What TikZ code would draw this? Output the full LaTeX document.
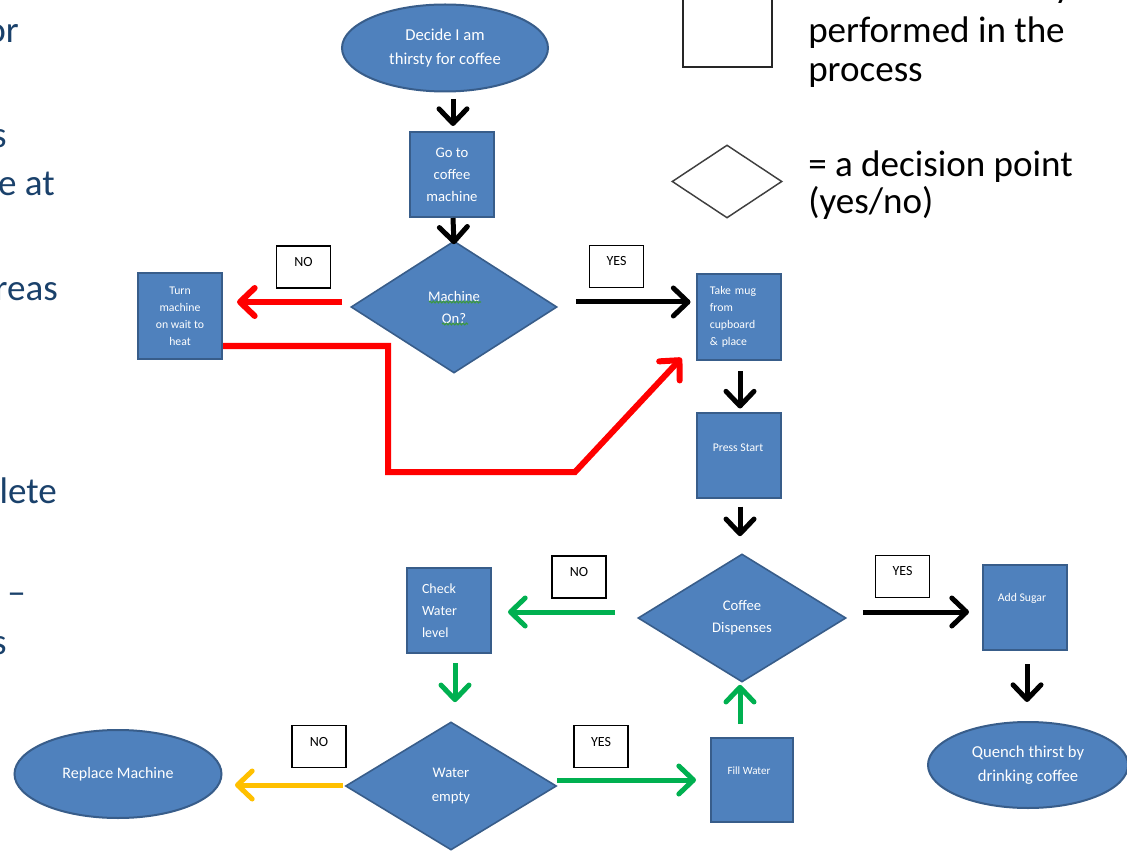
\documentclass[tikz,border=0pt]{standalone}
\usepackage{fontspec}
\setmainfont{Carlito}
\usetikzlibrary{arrows.meta,shapes.geometric,calc,decorations.pathmorphing}
\definecolor{fillblue}{HTML}{4F81BD}
\definecolor{edgeblue}{HTML}{385D8A}
\definecolor{navy}{HTML}{1A416B}
\definecolor{arrred}{HTML}{FF0000}
\definecolor{arrgreen}{HTML}{00B050}
\definecolor{arryellow}{HTML}{FFC000}
\definecolor{spellgreen}{HTML}{3C9A3C}
\begin{document}
\begin{tikzpicture}[x=0.75pt,y=-0.75pt,
  proc/.style={draw=edgeblue, line width=1.5pt, fill=fillblue, text=white, inner sep=0pt,
    minimum width=63pt, minimum height=63.75pt, align=center,
    font=\fontsize{8.8}{12.75}\selectfont},
  dec/.style={diamond, draw=edgeblue, line width=1.2pt, fill=fillblue, text=white, inner sep=0pt,
    align=center, font=\fontsize{11}{16.5}\selectfont},
  term/.style={ellipse, draw=edgeblue, line width=1.5pt, fill=fillblue, text=white, inner sep=0pt,
    align=center, font=\fontsize{12.5}{18}\selectfont},
  lab/.style={draw=black, line width=1.2pt, fill=white, inner sep=0pt,
    minimum width=40.5pt, minimum height=31.5pt},
  labtext/.style={font=\fontsize{10.5}{12}\selectfont, inner sep=0pt},
  boxtext/.style={text=white, inner sep=0pt, font=\fontsize{8.8}{12.75}\selectfont},
  bigtext/.style={font=\fontsize{27.8}{30}\selectfont, inner sep=0pt},
  sidetext/.style={bigtext, text=navy, anchor=base east},
  flow/.style={line width=3.75pt, -{Straight Barb[length=11pt,width=21pt,round]}},
  blk/.style={flow, draw=black},
  redl/.style={flow, draw=arrred, line width=4.5pt},
  grn/.style={flow, draw=arrgreen},
  yel/.style={flow, draw=arryellow},
  spell/.style={draw=spellgreen, line width=0.8pt, decorate,
    decoration={snake, amplitude=0.7pt, segment length=2.5pt}}
]
\path[use as bounding box, clip] (0,0) rectangle (1127,855);
\fill[white] (0,0) rectangle (1127,855);

% left margin text fragments
\node[sidetext] (t1) at (19,43) {or};
\node[sidetext] (t2) at (7,148) {s};
\node[sidetext] (t3) at (55,196) {e at};
\node[sidetext] (t4) at (58,301) {reas};
\node[sidetext] (t5) at (57,503) {lete};
\node[sidetext] (t6) at (26,604) {–};
\node[sidetext] (t7) at (7,654) {s};

% legend
\node[draw=black!85, line width=1.5pt, fill=white, minimum width=66.75pt, minimum height=58.5pt, inner sep=0pt] (legbox) at (727.5,28) {};
\node[diamond, draw=black!75, line width=1.1pt, fill=white, minimum width=82.5pt, minimum height=54.75pt, inner sep=0pt] (legdia) at (727,181.5) {};
\node[bigtext, anchor=base west] (lg0) at (1054,-2) {y};
\node[bigtext, anchor=base west] (lg1) at (808,43) {performed in the};
\node[bigtext, anchor=base west] (lg2) at (808,82) {process};
\node[bigtext, anchor=base west] (lg3) at (808,177) {= a decision point};
\node[bigtext, anchor=base west] (lg4) at (808,214) {(yes/no)};

% flowchart nodes
\node[term, minimum width=154.5pt, minimum height=65.25pt] (decide) at (445,48) {Decide I am\\thirsty for coffee};
\node[proc, font=\fontsize{11}{16.5}\selectfont] (goto) at (452,174.5) {Go to\\coffee\\machine};
\node[dec, minimum width=154.5pt, minimum height=99pt] (mon) at (454,307) {Machine\\On?};
\node[proc] (turn) at (180,316) {Turn\\machine\\on wait to\\heat};
\node[proc, minimum height=64.5pt, text width=43pt, align=left] (mug) at (738.5,317) {Take mug\\from\\cupboard\\\& place};
\node[proc] (press) at (738.5,455) {};
\node[boxtext] (presst) at (738,448) {Press Start};
\node[dec, minimum width=156pt, minimum height=96pt] (cd) at (742,618) {Coffee\\Dispenses};
\node[proc] (sugar) at (1025,607.5) {};
\node[boxtext] (sugart) at (1022,598) {Add Sugar};
\node[term, minimum width=150pt, minimum height=64.5pt] (quench) at (1028,765) {Quench thirst by\\drinking coffee};
\node[proc, text width=40.5pt, align=left, font=\fontsize{10.5}{16.5}\selectfont] (check) at (449,610.5) {Check\\Water\\level};
\node[dec, minimum width=158.25pt, minimum height=96pt, font=\fontsize{11}{18}\selectfont] (we) at (451,786) {Water\\empty};
\node[proc, minimum width=61.5pt, minimum height=63pt] (fill) at (752,780) {};
\node[boxtext, font=\fontsize{8.3}{10}\selectfont] (fillt) at (749,771) {Fill Water};
\node[term, minimum width=155.25pt, minimum height=66pt, font=\fontsize{12}{14}\selectfont] (replace) at (118,774) {Replace Machine};

% yes/no labels
\node[lab] (no1) at (303.5,267) {};
\node[labtext] at ($(no1.center)+(0,-5)$) (no1t) {NO};
\node[lab] (yes1) at (616.5,266.5) {};
\node[labtext] at ($(yes1.center)+(0,-5)$) (yes1t) {YES};
\node[lab] (no2) at (579,577) {};
\node[labtext] at ($(no2.center)+(0,-5)$) (no2t) {NO};
\node[lab] (yes2) at (902.5,576.5) {};
\node[labtext] at ($(yes2.center)+(0,-5)$) (yes2t) {YES};
\node[lab] (no3) at (319,746.5) {};
\node[labtext] at ($(no3.center)+(0,-5)$) (no3t) {NO};
\node[lab] (yes3) at (601,746.5) {};
\node[labtext] at ($(yes3.center)+(0,-5)$) (yes3t) {YES};

% spell-check underlines
\draw[spell] ($(mon.center)+(-25,-5)$) -- ($(mon.center)+(27,-5)$);
\draw[spell] ($(mon.center)+(-12,17)$) -- ($(mon.center)+(14,17)$);

% connectors
\draw[blk] ($(goto.north)+(1,-32)$) -- ($(goto.north)+(1,-5)$);
\draw[blk] ($(goto.south)+(1,0)$) -- ($(mon.north)+(0,4)$);
\draw[redl] ($(mon.west)+(-8,-5)$) -- ($(turn.east)+(14,-14)$);
\coordinate (rc1) at (388,472);
\coordinate (rc2) at (575,472);
\draw[redl] ($(turn.east)+(0,30)$) -| (rc1) -- (rc2) -- ($(mug.west)+(-14,41)$);
\draw[blk] ($(mon.east)+(18,-5)$) -- ($(mug.west)+(-5,-15)$);
\draw[blk] ($(mug.south)+(1.5,10)$) -- ($(press.north)+(1.5,-3)$);
\draw[blk] ($(press.south)+(1.5,8)$) -- ($(cd.north)+(-2,-17)$);
\draw[blk] ($(cd.east)+(16,-6)$) -- ($(sugar.west)+(-13,4.5)$);
\draw[blk] ($(sugar.south)+(2,13)$) -- ($(quench.north)+(-1,-19)$);
\draw[grn] ($(cd.west)+(-22,-6)$) -- ($(check.east)+(16,1.5)$);
\draw[grn] ($(check.south)+(6,9)$) -- ($(we.north)+(4,-19)$);
\draw[yel] ($(we.west)+(-2,-1)$) -- ($(replace.east)+(12.5,11)$);
\draw[grn] ($(we.east)+(0,-6)$) -- ($(fill.west)+(-14,0)$);
\draw[grn] ($(fill.north)+(-12,-13)$) -- ($(cd.south)+(-2,2)$);
\end{tikzpicture}
\end{document}
